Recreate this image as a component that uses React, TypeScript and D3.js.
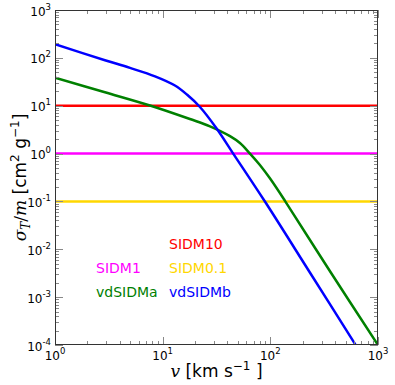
import React from 'react'
import * as d3 from 'd3'

// velocity-dependent models
const vdSIDMbVelocity = [1, 2.91, 4.97, 8.49, 13.0, 16.8, 22.2, 31.7, 45.2, 89.1, 233, 617]
const vdSIDMbSigma = [192, 89.3, 61.7, 41.1, 26.4, 17.1, 9.4, 3.34, 1.0, 0.0995, 0.00327, 1.02e-4]

const vdSIDMaVelocity = [1, 2.91, 7.62, 17.9, 27.5, 42.2, 52.2, 64.7, 80, 99.1, 136.7, 357, 1000]
const vdSIDMaSigma = [38.5, 19.1, 10.1, 5.27, 3.71, 2.31, 1.66, 1.0, 0.577, 0.304, 0.103, 0.00351, 1.0e-4]

// constant cross sections
const constantModels = ['SIDM10', 'SIDM1', 'SIDM0.1']
const constantSigma = [10, 1, 0.1]
const constantColors = ['#ff0000', '#ff00ff', '#ffd700']

const xDecades = [0, 1, 2, 3]
const yDecades = [-4, -3, -2, -1, 0, 1, 2, 3]

const W = 395
const H = 385
const left = 55
const right = 378
const top = 10
const bottom = 345

const sans = 'DejaVu Sans, sans-serif'
const serif = 'DejaVu Serif, serif'

const App = () => {
  const x = d3.scaleLog().domain([1, 1000]).range([left, right])
  const y = d3.scaleLog().domain([1e-4, 1e3]).range([bottom, top])

  const line = d3
    .line<[number, number]>()
    .x((d) => x(d[0]))
    .y((d) => y(d[1]))
    .curve(d3.curveCatmullRom.alpha(0.5))

  const blue = vdSIDMbVelocity.map((v, i) => [v, vdSIDMbSigma[i]] as [number, number])
  const green = vdSIDMaVelocity.map((v, i) => [v, vdSIDMaSigma[i]] as [number, number])

  // major + minor tick positions
  const xTicks: { v: number; major: boolean }[] = []
  xDecades.forEach((d) => {
    for (let m = 1; m < 10; m++) {
      const v = m * Math.pow(10, d)
      if (v > 1000) break
      xTicks.push({ v, major: m === 1 })
    }
  })
  const yTicks: { v: number; major: boolean }[] = []
  yDecades.forEach((d) => {
    for (let m = 1; m < 10; m++) {
      const v = m * Math.pow(10, d)
      if (v > 1000) break
      yTicks.push({ v, major: m === 1 })
    }
  })

  const tickColor = '#888'

  return (
    <svg width={W} height={H} style={{ position: 'absolute', left: 0, top: 0 }}>
      <rect width={W} height={H} fill='#fff' />
      <defs>
        <clipPath id='plot'>
          <rect x={left} y={top} width={right - left} height={bottom - top} />
        </clipPath>
      </defs>

      <g clipPath='url(#plot)'>
        {constantSigma.map((s, i) => (
          <line
            key={constantModels[i]}
            x1={left}
            x2={right}
            y1={y(s)}
            y2={y(s)}
            stroke={constantColors[i]}
            strokeWidth={2.5}
          />
        ))}
        <path d={line(green) || ''} fill='none' stroke='#008000' strokeWidth={2.5} />
        <path d={line(blue) || ''} fill='none' stroke='#0000ff' strokeWidth={2.5} />
      </g>

      {/* ticks, inward on all four sides */}
      <g stroke={tickColor} strokeWidth={1}>
        {xTicks.map((t, i) => {
          const len = t.major ? 8 : 4
          const px = Math.round(x(t.v)) + 0.5
          return (
            <g key={'x' + i}>
              <line x1={px} x2={px} y1={bottom} y2={bottom - len} />
              <line x1={px} x2={px} y1={top} y2={top + len} />
            </g>
          )
        })}
        {yTicks.map((t, i) => {
          const len = t.major ? 8 : 4
          const py = Math.round(y(t.v)) + 0.5
          return (
            <g key={'y' + i}>
              <line x1={left} x2={left + len} y1={py} y2={py} />
              <line x1={right} x2={right - len} y1={py} y2={py} />
            </g>
          )
        })}
      </g>

      <rect
        x={left + 0.5}
        y={top + 0.5}
        width={right - left - 1}
        height={bottom - top - 1}
        fill='none'
        stroke='#333'
        strokeWidth={1}
      />

      {/* tick labels */}
      <g fontFamily={sans} fontSize={12} fill='#000'>
        {xDecades.map((d) => (
          <text key={'xl' + d} x={x(Math.pow(10, d))} y={360} textAnchor='middle'>
            10
            <tspan dy={-6} fontSize={8.5}>
              {d}
            </tspan>
          </text>
        ))}
        {yDecades.map((d) => (
          <text key={'yl' + d} x={51} y={y(Math.pow(10, d)) + 5.5} textAnchor='end'>
            10
            <tspan dy={-6} fontSize={8.5}>
              {d < 0 ? '-' + Math.abs(d) : d}
            </tspan>
          </text>
        ))}
      </g>

      {/* axis labels */}
      <text x={(left + right) / 2} y={377} textAnchor='middle' fontFamily={sans} fontSize={17}>
        <tspan fontFamily={serif} fontStyle='italic'>
          v
        </tspan>
        <tspan> [km s</tspan>
        <tspan dy={-7} fontSize={12}>
          −1
        </tspan>
        <tspan dy={7}> ]</tspan>
      </text>
      <text
        transform={`translate(26,${(top + bottom) / 2}) rotate(-90)`}
        textAnchor='middle'
        fontFamily={sans}
        fontSize={17}
      >
        <tspan fontFamily={serif} fontStyle='italic'>
          σ
        </tspan>
        <tspan fontFamily={serif} fontStyle='italic' fontSize={12} dy={4}>
          T
        </tspan>
        <tspan dy={-4} fontFamily={serif}>
          /
        </tspan>
        <tspan fontFamily={serif} fontStyle='italic'>
          m
        </tspan>
        <tspan> [cm</tspan>
        <tspan dy={-7} fontSize={12}>
          2
        </tspan>
        <tspan dy={7}> g</tspan>
        <tspan dy={-7} fontSize={12}>
          −1
        </tspan>
        <tspan dy={7}>]</tspan>
      </text>

      {/* legend as colored text */}
      <g fontFamily={sans} fontSize={14}>
        <text x={169} y={249} fill='#ff0000'>
          SIDM10
        </text>
        <text x={96} y={273} fill='#ff00ff'>
          SIDM1
        </text>
        <text x={169} y={273} fill='#ffd700'>
          SIDM0.1
        </text>
        <text x={96} y={297} fill='#008000'>
          vdSIDMa
        </text>
        <text x={169} y={297} fill='#0000ff'>
          vdSIDMb
        </text>
      </g>
    </svg>
  )
}

export default App
